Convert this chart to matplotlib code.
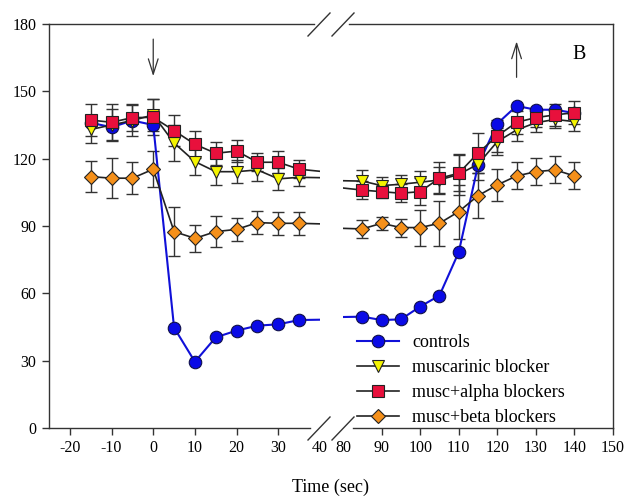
import matplotlib
matplotlib.use("Agg")
import matplotlib.pyplot as plt
from matplotlib.lines import Line2D

plt.rcParams['font.family'] = ['Liberation Serif', 'DejaVu Serif']
plt.rcParams['axes.unicode_minus'] = False

# time points (sec), both sides of the axis break
times = [-15, -10, -5, 0, 5, 10, 15, 20, 25, 30, 35,
         85, 90, 95, 100, 105, 110, 115, 120, 125, 130, 135, 140]

controls = [136, 134, 137, 135, 44.7, 29.5, 40.4, 43.4, 45.6, 46.2, 48.1,
            49.6, 48.1, 48.4, 54.1, 59, 78.3, 117, 135.6, 143.5, 141.8, 141.8, 140.3]
musc = [133, 135, 137, 139.5, 127, 118.7, 114.2, 114.2, 115, 111, 111.7,
        110, 108, 108.6, 109.5, 110.5, 113, 117.5, 127.6, 132.8, 136, 137.5, 136.5]
alpha = [137.2, 136.2, 138.3, 138.4, 132.5, 126.4, 122.4, 123.4, 118.4, 118.4, 115.3,
         106, 105.3, 104.6, 105.3, 111.3, 113.5, 122.5, 130.1, 136.2, 138.3, 139.5, 140.5]
beta = [112, 111.3, 111.3, 115.3, 87.5, 84.5, 87.5, 88.5, 91.5, 91.2, 91.2,
        88.7, 91.2, 89.3, 89.3, 91.2, 96.4, 103.5, 108.3, 112.3, 114.2, 115, 112.3]

musc_err = [6, 7, 7, 7, 8, 6, 6, 5, 5, 5, 4, 5, 4, 4, 5, 6, 9, 7, 6, 5, 4, 4, 4]
alpha_err = [7, 8, 6, 8, 7, 6, 5, 5, 4, 5, 4, 4, 3, 4, 6, 7, 8, 9, 7, 5, 4, 5, 5]
beta_err = [7, 9, 7, 8, 11, 6, 7, 5, 5, 5, 5, 4, 3, 4, 8, 10, 12, 10, 7, 6, 6, 6, 6]

labels = ['controls', 'muscarinic blocker', 'musc+alpha blockers', 'musc+beta blockers']

W, H = 626, 497
fig = plt.figure(figsize=(W / 100, H / 100), dpi=100)
ax1 = fig.add_axes([49 / W, 1 - 428 / H, (320 - 49) / W, (428 - 24) / H])
ax2 = fig.add_axes([343 / W, 1 - 428 / H, (613 - 343) / W, (428 - 24) / H], sharey=ax1)

axc = '#333333'
for ax in (ax1, ax2):
    # error bars first, then lines/markers on top
    ax.errorbar(times, musc, yerr=musc_err, fmt='none', ecolor=axc, elinewidth=1, capsize=4.5, capthick=1)
    ax.errorbar(times, alpha, yerr=alpha_err, fmt='none', ecolor=axc, elinewidth=1, capsize=4.5, capthick=1)
    ax.errorbar(times, beta, yerr=beta_err, fmt='none', ecolor=axc, elinewidth=1, capsize=4.5, capthick=1)

    ax.plot(times, controls, color='#1010d8', lw=1.5, marker='o', ms=9,
            mfc='#0a0ae6', mec='#10104a', mew=0.8, label=labels[0])
    ax.plot(times, musc, color='#222222', lw=1.2, marker='v', ms=8.5,
            mfc='#f4f400', mec='#222222', mew=0.8, label=labels[1])
    ax.plot(times, alpha, color='#222222', lw=1.2, marker='s', ms=8,
            mfc='#e8103c', mec='#222222', mew=0.8, label=labels[2])
    ax.plot(times, beta, color='#222222', lw=1.2, marker='D', ms=7.5,
            mfc='#f5901a', mec='#222222', mew=0.8, label=labels[3])

    ax.tick_params(direction='out', length=5, width=1, color=axc, labelsize=11.5, pad=4)
    for s in ax.spines.values():
        s.set_color(axc)
        s.set_linewidth(1)

ax1.set_xlim(-25, 40)
ax2.set_xlim(80, 150)
ax1.set_ylim(0, 180)
ax1.set_yticks(range(0, 181, 30))
ax1.set_xticks(range(-20, 41, 10))
ax2.set_xticks(range(80, 151, 10))
ax1.xaxis.get_major_ticks()[-1].tick1line.set_visible(False)
ax2.xaxis.get_major_ticks()[0].tick1line.set_visible(False)

ax1.spines['right'].set_visible(False)
ax2.spines['left'].set_visible(False)
ax2.tick_params(left=False, labelleft=False)
ax1.spines['bottom'].set_bounds(-25, 37.5)
ax1.spines['top'].set_bounds(-25, 38.5)
ax2.spines['bottom'].set_bounds(82.5, 150)
ax2.spines['top'].set_bounds(81.5, 150)

# break marks
for yc in (428, 24):
    for x0 in (308, 332):
        fig.add_artist(Line2D([x0 / W, (x0 + 22) / W],
                              [1 - (yc + 12) / H, 1 - (yc - 11) / H],
                              color=axc, lw=1, transform=fig.transFigure))

# stimulus arrows
arrow = dict(arrowstyle='->, head_length=1.1, head_width=0.35', color=axc, lw=0.9)
ax1.annotate('', xy=(0, 155.5), xytext=(0, 174.5), arrowprops=arrow)
ax2.annotate('', xy=(125, 173.5), xytext=(125, 155), arrowprops=arrow)

ax2.text(141.2, 166.5, 'B', fontsize=14.5, ha='center', va='center')

ax2.legend(loc='upper left', bbox_to_anchor=(357 / W, 1 - 334 / H), bbox_transform=fig.transFigure,
           frameon=False, fontsize=13, handlelength=2.3, handletextpad=0.75,
           labelspacing=0.45, borderpad=0, borderaxespad=0)

fig.text(331 / W, 1 - 487 / H, 'Time (sec)', fontsize=13, ha='center', va='center')

fig.savefig('out.png', dpi=100)
